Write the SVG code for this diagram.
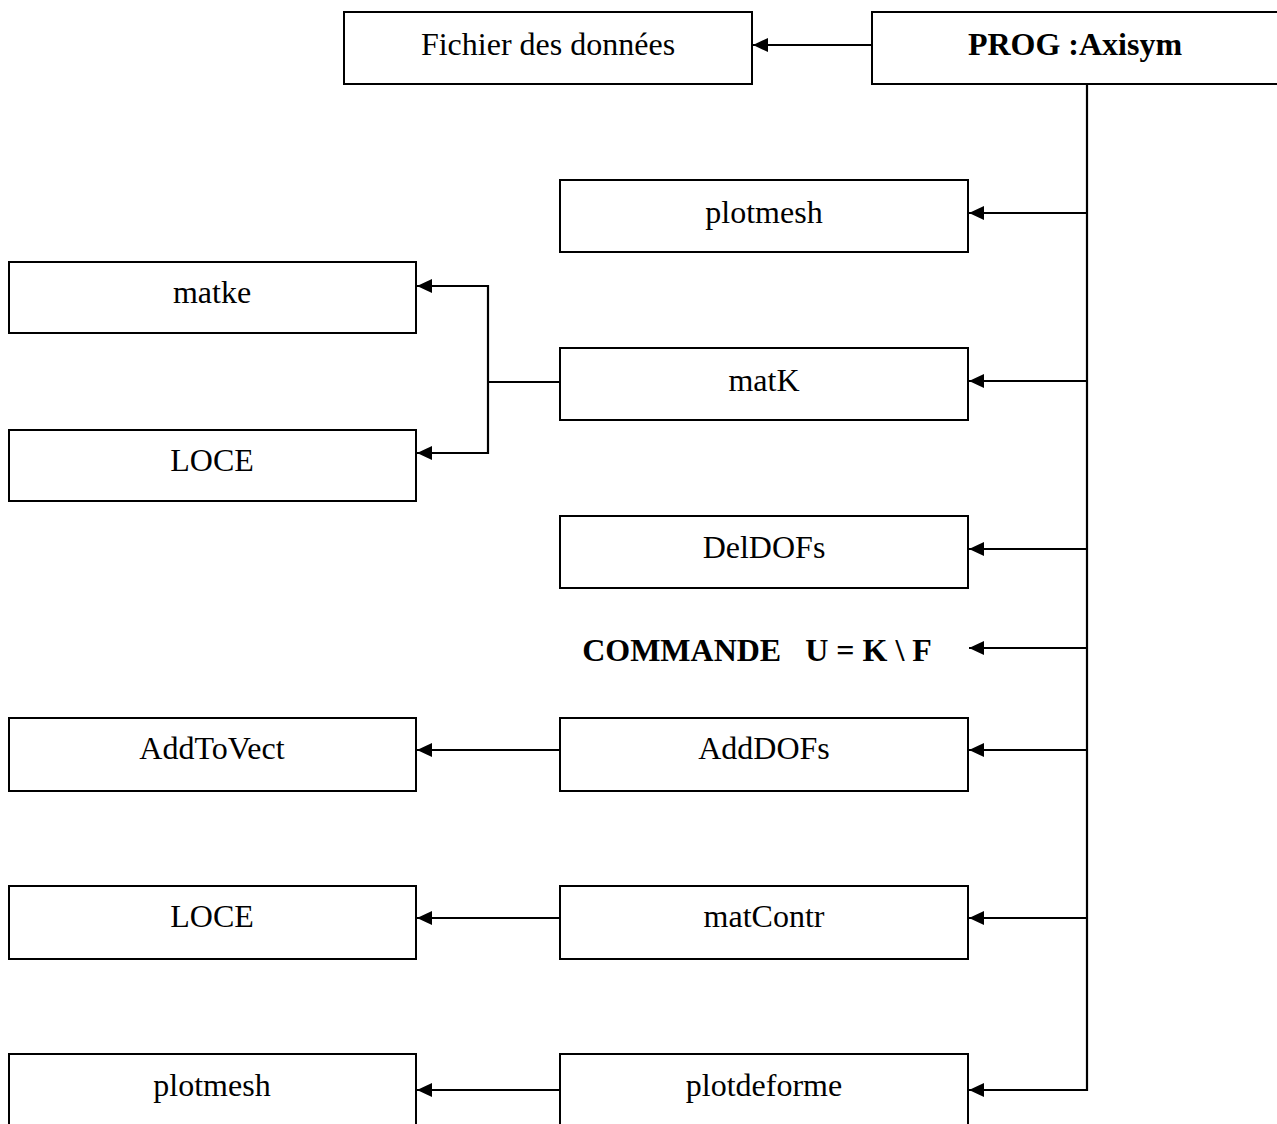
<svg xmlns="http://www.w3.org/2000/svg" width="1277" height="1124" viewBox="0 0 1277 1124">
<defs>
<marker id="ah" markerUnits="userSpaceOnUse" markerWidth="16" markerHeight="16" refX="15" refY="8" orient="auto">
<path d="M0,1 L15,8 L0,15 Z" fill="#000"/>
</marker>
<style>
.box{fill:#fff;stroke:#000;stroke-width:2}
.t{font-family:"Liberation Serif","Times New Roman",serif;font-size:32px;text-anchor:middle;fill:#000}
.b{font-weight:bold}
.c{fill:none;stroke:#000;stroke-width:2.2}
.a{marker-end:url(#ah)}
</style>
</defs>
<rect width="1277" height="1124" fill="#fff"/>
<g id="connectors">
<line class="c a" x1="872" y1="45" x2="753" y2="45"/>
<line class="c" x1="1087" y1="84" x2="1087" y2="1091"/>
<line class="c a" x1="1088" y1="213" x2="969" y2="213"/>
<line class="c a" x1="1088" y1="381" x2="969" y2="381"/>
<line class="c a" x1="1088" y1="549" x2="969" y2="549"/>
<line class="c a" x1="1088" y1="648" x2="969" y2="648"/>
<line class="c a" x1="1088" y1="750" x2="969" y2="750"/>
<line class="c a" x1="1088" y1="918" x2="969" y2="918"/>
<line class="c a" x1="1088" y1="1090" x2="969" y2="1090"/>
<line class="c" x1="560" y1="382" x2="488" y2="382"/>
<polyline class="c a" points="488,382 488,286 417,286"/>
<polyline class="c a" points="488,382 488,453 417,453"/>
<line class="c a" x1="560" y1="750" x2="417" y2="750"/>
<line class="c a" x1="560" y1="918" x2="417" y2="918"/>
<line class="c a" x1="560" y1="1090" x2="417" y2="1090"/>
</g>
<g id="fichier"><rect class="box" x="344" y="12" width="408" height="72"/><text class="t" x="548" y="55">Fichier des données</text></g>
<g id="prog"><rect class="box" x="872" y="12" width="420" height="72"/><text class="t b" x="1075" y="55">PROG :Axisym</text></g>
<g id="plotmesh1"><rect class="box" x="560" y="180" width="408" height="72"/><text class="t" x="764" y="223">plotmesh</text></g>
<g id="matke"><rect class="box" x="9" y="262" width="407" height="71"/><text class="t" x="212" y="303">matke</text></g>
<g id="matK"><rect class="box" x="560" y="348" width="408" height="72"/><text class="t" x="764" y="391">matK</text></g>
<g id="loce1"><rect class="box" x="9" y="430" width="407" height="71"/><text class="t" x="212" y="471">LOCE</text></g>
<g id="deldofs"><rect class="box" x="560" y="516" width="408" height="72"/><text class="t" x="764" y="558">DelDOFs</text></g>
<g id="commande"><text class="t b" x="757" y="661" xml:space="preserve">COMMANDE   U = K \ F</text></g>
<g id="adddofs"><rect class="box" x="560" y="718" width="408" height="73"/><text class="t" x="764" y="759">AddDOFs</text></g>
<g id="addtovect"><rect class="box" x="9" y="718" width="407" height="73"/><text class="t" x="212" y="759">AddToVect</text></g>
<g id="matcontr"><rect class="box" x="560" y="886" width="408" height="73"/><text class="t" x="764" y="927">matContr</text></g>
<g id="loce2"><rect class="box" x="9" y="886" width="407" height="73"/><text class="t" x="212" y="927">LOCE</text></g>
<g id="plotdeforme"><rect class="box" x="560" y="1054" width="408" height="80"/><text class="t" x="764" y="1096">plotdeforme</text></g>
<g id="plotmesh2"><rect class="box" x="9" y="1054" width="407" height="80"/><text class="t" x="212" y="1096">plotmesh</text></g>
</svg>
